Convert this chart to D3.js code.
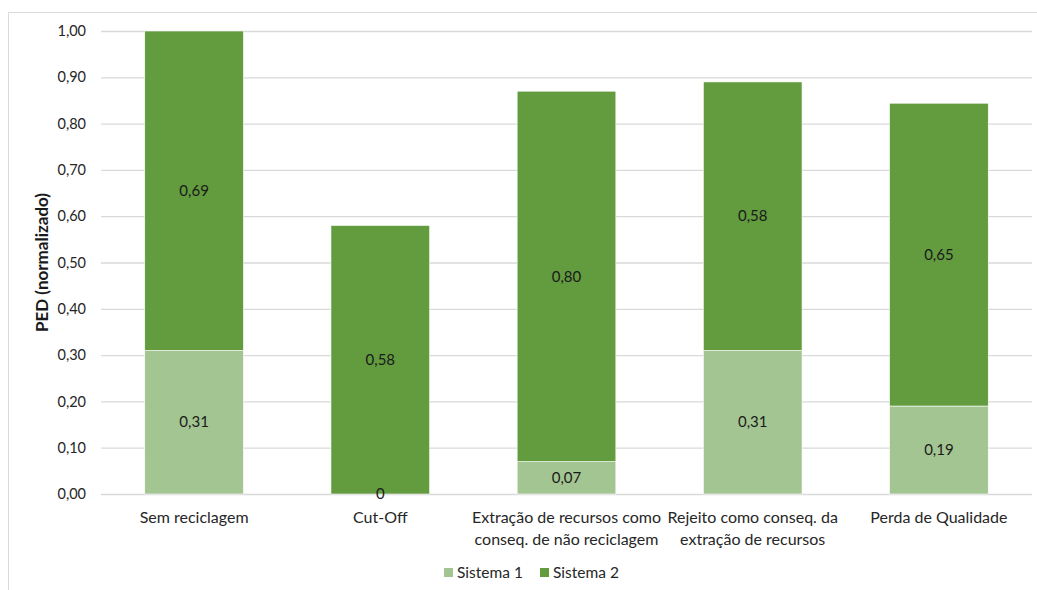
<!DOCTYPE html>
<html><head><meta charset="utf-8">
<script src="https://cdn.jsdelivr.net/npm/d3@7"></script>
<style>body{margin:0;background:#fff}svg{display:block}text{font-family:Lato,"Open Sans",sans-serif}</style>
</head><body><svg id="c" width="1037" height="590"></svg>
<script>
const categories = [["Sem reciclagem"],["Cut-Off"],["Extração de recursos como","conseq. de não reciclagem"],["Rejeito como conseq. da","extração de recursos"],["Perda de Qualidade"]];
const sistema1 = [0.31, 0, 0.07, 0.31, 0.19];
const sistema2 = [0.69, 0.58, 0.80, 0.58, 0.654];
const seriesNames = ["Sistema 1","Sistema 2"];
const colors = ["#A3C591","#639B3F"];
const yTicks = [0,0.1,0.2,0.3,0.4,0.5,0.6,0.7,0.8,0.9,1.0];

const svg = d3.select("#c");
const m = {l:101, r:1032, t:31, b:494};
// chart border
svg.append("path").attr("d","M8.5,600 L8.5,12.5 L1040,12.5").attr("fill","none").attr("stroke","#D9D9D9");

const x = d3.scaleBand().domain(d3.range(categories.length)).range([m.l,m.r]).paddingInner(0.47).paddingOuter(0.235);
const y = d3.scaleLinear().domain([0,1]).range([m.b,m.t]);
const fmt = v => v.toFixed(2).replace(".",",");

const yAxis = d3.axisLeft(y).tickValues(yTicks).tickSize(-(m.r-m.l)).tickFormat(fmt).tickPadding(15);
const ga = svg.append("g").attr("transform",`translate(${m.l},0)`).call(yAxis);
ga.select(".domain").remove();
ga.selectAll("line").attr("stroke","#D9D9D9").attr("stroke-width",1.3);
ga.selectAll("text").attr("font-size",14.5).attr("fill","#262626").style("font-family","Lato");

const stackData = categories.map((c,i)=>({i, s1:sistema1[i], s2:sistema2[i]}));
const stack = d3.stack().keys(["s1","s2"])(stackData);
stack.forEach((layer,k)=>{
  const g = svg.append("g");
  g.selectAll("rect").data(layer).join("rect")
    .attr("x",d=>x(d.data.i)).attr("width",x.bandwidth())
    .attr("y",d=>y(d[1])).attr("height",d=>y(d[0])-y(d[1]))
    .attr("fill",colors[k]).attr("stroke","#fff").attr("stroke-width",0.6);
});
stack.forEach((layer,k)=>{
  svg.append("g").selectAll("text").data(layer).join("text")
    .attr("x",d=>x(d.data.i)+x.bandwidth()/2)
    .attr("y",d=>(y(d[0])+y(d[1]))/2)
    .attr("dy","0.35em").attr("text-anchor","middle").attr("font-size",15).attr("fill","#1a1a1a")
    .text(d=>{const v=d[1]-d[0]; return v===0?"0":fmt(v);});
});

// x labels
const gx = svg.append("g");
categories.forEach((lines,i)=>{
  const t = gx.append("text").attr("x",x(i)+x.bandwidth()/2).attr("y",523).attr("text-anchor","middle").attr("font-size",16).attr("fill","#262626");
  lines.forEach((l,j)=>t.append("tspan").attr("x",x(i)+x.bandwidth()/2).attr("dy",j===0?0:22).text(l));
});

// y title
svg.append("text").attr("transform",`translate(48,${(m.t+m.b)/2}) rotate(-90)`).attr("text-anchor","middle")
  .attr("font-size",17).attr("font-weight","bold").attr("fill","#1a1a1a").text("PED (normalizado)");

// legend
const leg = svg.append("g");
const legX = [444, 540];
seriesNames.forEach((n,k)=>{
  leg.append("rect").attr("x",legX[k]).attr("y",568).attr("width",9).attr("height",9).attr("fill",colors[k]);
  leg.append("text").attr("x",legX[k]+13).attr("y",578).attr("font-size",15.5).attr("fill","#262626").text(n);
});
</script></body></html>
